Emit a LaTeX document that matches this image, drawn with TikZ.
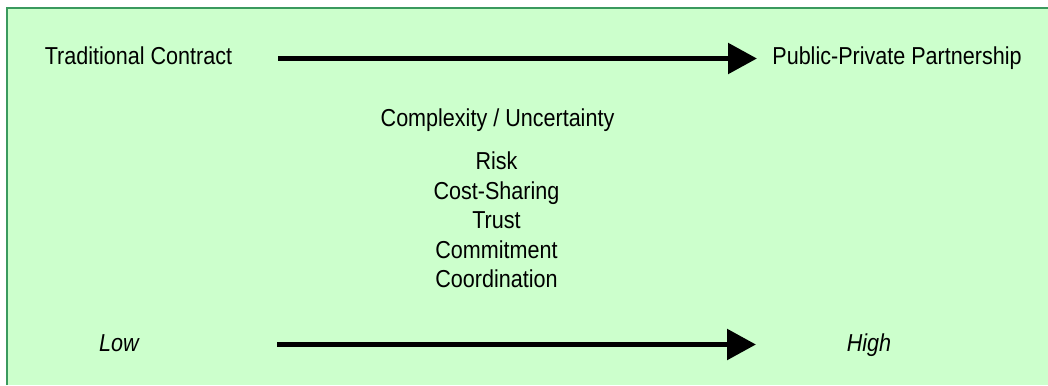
\documentclass[tikz,border=0pt]{standalone}
\usepackage{fontspec}
\setmainfont{Liberation Sans}[FakeStretch=0.88]
\usetikzlibrary{arrows.meta}
\definecolor{bgfill}{HTML}{CCFFCC}
\definecolor{bordergreen}{HTML}{3A9A5E}
\tikzset{
  lbl/.style={inner sep=0pt, anchor=base, font=\fontsize{24.5}{29.5}\selectfont},
  ilbl/.style={lbl, font=\fontsize{24.5}{29.5}\selectfont\itshape},
  bigarrow/.style={line width=5.5pt, -{Triangle[length=29pt,width=30pt]}},
}
\begin{document}
\begin{tikzpicture}[x=1pt,y=-1pt]
\useasboundingbox (0,0) rectangle (1048,385);
\fill[bgfill] (7,8) rectangle (1048,385);
\draw[bordergreen, line width=1.5pt] (7,385) -- (7,8) -- (1048,8);

\node[lbl] (trad) at (138.5,65) {Traditional Contract};
\node[lbl] (ppp) at (897,65) {Public-Private Partnership};
\node[lbl] (cu) at (497.5,126) {Complexity / Uncertainty};
\node[lbl] (l1) at (496.5,169.3) {Risk};
\node[lbl] (l2) at (496.5,199) {Cost-Sharing};
\node[lbl] (l3) at (496.5,228.5) {Trust};
\node[lbl] (l4) at (496.5,258) {Commitment};
\node[lbl] (l5) at (496.5,287.5) {Coordination};
\node[ilbl] (low) at (119,351.7) {Low};
\node[ilbl] (high) at (869,351.7) {High};

\coordinate (t1) at (278,58.5);
\coordinate (t2) at (757,58.5);
\coordinate (b1) at (277,344.5);
\coordinate (b2) at (756,344.5);
\draw[bigarrow] (t1) -- (t2);
\draw[bigarrow] (b1) -- (b2);
\end{tikzpicture}
\end{document}
